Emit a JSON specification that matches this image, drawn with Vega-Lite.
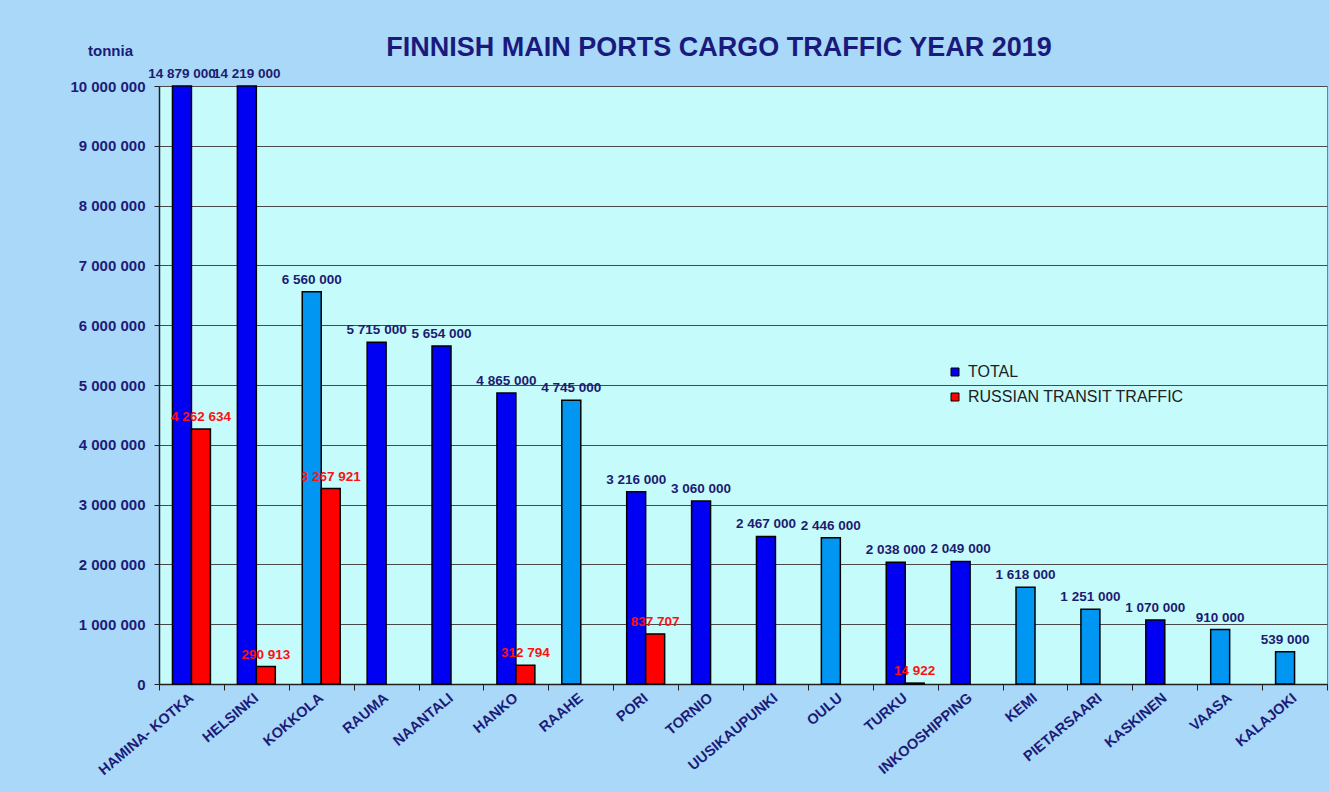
{
  "$schema": "https://vega.github.io/schema/vega-lite/v6.json",
  "width": 1168,
  "height": 598,
  "autosize": {"type": "none"},
  "padding": {"left": 159, "top": 86, "right": 2, "bottom": 108},
  "background": "#aad8f8",
  "title": {
    "text": "FINNISH MAIN PORTS CARGO TRAFFIC YEAR 2019",
    "font": "Liberation Sans",
    "fontSize": 27,
    "fontWeight": "bold",
    "color": "#1a1a7c",
    "anchor": "middle",
    "frame": "group",
    "dx": -24,
    "dy": 27,
    "offset": 8
  },
  "config": {
    "locale": {"number": {"decimal": ",", "thousands": " ", "grouping": [3], "currency": ["", " €"]}},
    "view": {"fill": "#c6fbfc", "stroke": "#808080", "strokeWidth": 1}
  },
  "data": {
    "values": [
      {"port": "HAMINA- KOTKA", "series": "TOTAL", "group": "TOTAL", "value": 14879000},
      {"port": "HAMINA- KOTKA", "series": "RUSSIAN TRANSIT TRAFFIC", "group": "RUSSIAN TRANSIT TRAFFIC", "value": 4262634},
      {"port": "HELSINKI", "series": "TOTAL", "group": "TOTAL", "value": 14219000},
      {"port": "HELSINKI", "series": "RUSSIAN TRANSIT TRAFFIC", "group": "RUSSIAN TRANSIT TRAFFIC", "value": 290913},
      {"port": "KOKKOLA", "series": "TOTAL", "group": "TOTAL_LIGHT", "value": 6560000},
      {"port": "KOKKOLA", "series": "RUSSIAN TRANSIT TRAFFIC", "group": "RUSSIAN TRANSIT TRAFFIC", "value": 3267921},
      {"port": "RAUMA", "series": "TOTAL", "group": "TOTAL", "value": 5715000},
      {"port": "NAANTALI", "series": "TOTAL", "group": "TOTAL", "value": 5654000},
      {"port": "HANKO", "series": "TOTAL", "group": "TOTAL", "value": 4865000},
      {"port": "HANKO", "series": "RUSSIAN TRANSIT TRAFFIC", "group": "RUSSIAN TRANSIT TRAFFIC", "value": 312794},
      {"port": "RAAHE", "series": "TOTAL", "group": "TOTAL_LIGHT", "value": 4745000},
      {"port": "PORI", "series": "TOTAL", "group": "TOTAL", "value": 3216000},
      {"port": "PORI", "series": "RUSSIAN TRANSIT TRAFFIC", "group": "RUSSIAN TRANSIT TRAFFIC", "value": 837707},
      {"port": "TORNIO", "series": "TOTAL", "group": "TOTAL", "value": 3060000},
      {"port": "UUSIKAUPUNKI", "series": "TOTAL", "group": "TOTAL", "value": 2467000},
      {"port": "OULU", "series": "TOTAL", "group": "TOTAL_LIGHT", "value": 2446000},
      {"port": "TURKU", "series": "TOTAL", "group": "TOTAL", "value": 2038000},
      {"port": "TURKU", "series": "RUSSIAN TRANSIT TRAFFIC", "group": "RUSSIAN TRANSIT TRAFFIC", "value": 14922},
      {"port": "INKOOSHIPPING", "series": "TOTAL", "group": "TOTAL", "value": 2049000},
      {"port": "KEMI", "series": "TOTAL", "group": "TOTAL_LIGHT", "value": 1618000},
      {"port": "PIETARSAARI", "series": "TOTAL", "group": "TOTAL_LIGHT", "value": 1251000},
      {"port": "KASKINEN", "series": "TOTAL", "group": "TOTAL", "value": 1070000},
      {"port": "VAASA", "series": "TOTAL", "group": "TOTAL_LIGHT", "value": 910000},
      {"port": "KALAJOKI", "series": "TOTAL", "group": "TOTAL_LIGHT", "value": 539000}
    ]
  },
  "encoding": {
    "x": {
      "field": "port",
      "type": "nominal",
      "sort": null,
      "scale": {"paddingInner": 0, "paddingOuter": 0},
      "axis": {
        "title": null,
        "labelAngle": -40,
        "labelAlign": "right",
        "labelBaseline": "middle",
        "labelFont": "Liberation Sans",
        "labelFontWeight": "bold",
        "labelFontSize": 14.5,
        "labelColor": "#1c1c78",
        "labelPadding": 6,
        "tickBand": "extent",
        "tickSize": 6,
        "tickColor": "#202020",
        "domainColor": "#202020",
        "domainWidth": 1.5,
        "labelLimit": 300
      }
    },
    "xOffset": {
      "field": "series",
      "type": "nominal",
      "scale": {"domain": ["TOTAL", "RUSSIAN TRANSIT TRAFFIC"], "paddingInner": 0, "paddingOuter": 0.71}
    },
    "y": {
      "field": "value",
      "type": "quantitative",
      "scale": {"domain": [0, 10000000], "clamp": true, "nice": false},
      "axis": {
        "values": [0, 1000000, 2000000, 3000000, 4000000, 5000000, 6000000, 7000000, 8000000, 9000000, 10000000],
        "format": ",d",
        "title": "tonnia",
        "titleAngle": 0,
        "titleX": -49,
        "titleY": -36,
        "titleAlign": "center",
        "titleBaseline": "middle",
        "titleFont": "Liberation Sans",
        "titleFontSize": 15,
        "titleFontWeight": "bold",
        "titleColor": "#1c1c78",
        "labelFont": "Liberation Sans",
        "labelFontWeight": "bold",
        "labelFontSize": 15,
        "labelColor": "#1c1c78",
        "labelPadding": 9,
        "tickSize": 5,
        "tickColor": "#202020",
        "domainColor": "#202020",
        "domainWidth": 1.5,
        "grid": true,
        "gridColor": "#4a4a4a",
        "gridWidth": 1,
        "gridOpacity": 1
      }
    }
  },
  "layer": [
    {
      "mark": {"type": "bar", "stroke": "#000000", "strokeWidth": 1.5},
      "encoding": {
        "color": {
          "field": "group",
          "type": "nominal",
          "scale": {"domain": ["TOTAL", "RUSSIAN TRANSIT TRAFFIC", "TOTAL_LIGHT"], "range": ["#0000f2", "#ff0000", "#0096f2"]},
          "legend": {
            "values": ["TOTAL", "RUSSIAN TRANSIT TRAFFIC"],
            "title": null,
            "orient": "none",
            "legendX": 788,
            "legendY": 278,
            "symbolType": "square",
            "symbolSize": 64,
            "symbolStrokeColor": "#000000",
            "symbolStrokeWidth": 1,
            "labelFont": "Liberation Sans",
            "labelFontSize": 16,
            "labelColor": "#202020",
            "labelOffset": 5,
            "rowPadding": 9,
            "labelLimit": 400
          }
        }
      }
    },
    {
      "transform": [{"filter": "datum.series === 'TOTAL'"}],
      "mark": {"type": "text", "baseline": "bottom", "dy": -5, "font": "Liberation Sans", "fontWeight": "bold", "fontSize": 13.5, "color": "#1c1c70"},
      "encoding": {"text": {"field": "value", "type": "quantitative", "format": ",d"}}
    },
    {
      "transform": [{"filter": "datum.series === 'RUSSIAN TRANSIT TRAFFIC'"}],
      "mark": {"type": "text", "baseline": "bottom", "dy": -5, "font": "Liberation Sans", "fontWeight": "bold", "fontSize": 13.5, "color": "#ff1010"},
      "encoding": {"text": {"field": "value", "type": "quantitative", "format": ",d"}}
    }
  ]
}
